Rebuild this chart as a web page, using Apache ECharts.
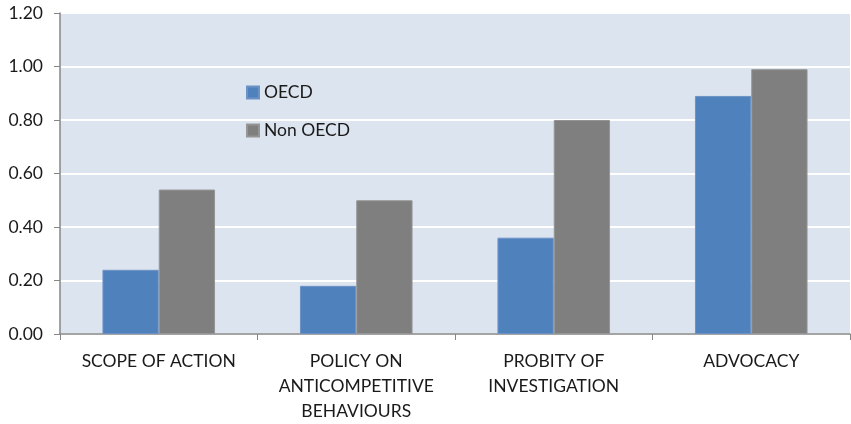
<!DOCTYPE html>
<html>
<head>
<meta charset="utf-8">
<script src="https://cdn.jsdelivr.net/npm/echarts@6/dist/echarts.min.js"></script>
<style>
  html, body { margin: 0; padding: 0; background: #ffffff; }
  #chart { width: 851px; height: 424px; }
</style>
</head>
<body>
<div id="chart"></div>
<script>
// Categories along the x axis
const categories = [
  'SCOPE OF ACTION',
  'POLICY ON\nANTICOMPETITIVE\nBEHAVIOURS',
  'PROBITY OF\nINVESTIGATION',
  'ADVOCACY'
];
// Series values
const oecd = [0.24, 0.18, 0.36, 0.89];
const nonOecd = [0.54, 0.50, 0.80, 0.99];
// Y axis range
const yMin = 0;
const yMax = 1.2;
const yStep = 0.2;

const font = 'Lato, "Open Sans", sans-serif';
const fs = 17.5;
const chart = echarts.init(document.getElementById('chart'), null, { renderer: 'canvas' });

chart.setOption({
  animation: false,
  textStyle: { fontFamily: font },
  grid: {
    left: 60, right: 1, top: 13, bottom: 89.5,
    show: true, backgroundColor: '#dce4ef', borderWidth: 0
  },
  legend: {
    orient: 'vertical',
    left: 246, top: 82, padding: 0,
    itemWidth: 12, itemHeight: 12, itemGap: 17,
    icon: 'rect',
    textStyle: { fontSize: fs, color: '#1a1a1a', fontFamily: font, lineHeight: 21 },
    data: ['OECD', 'Non OECD']
  },
  xAxis: {
    type: 'category',
    data: categories,
    axisLine: { lineStyle: { color: '#868686', width: 1.5 } },
    axisTick: { show: true, length: 6, lineStyle: { color: '#868686' } },
    axisLabel: {
      interval: 0, margin: 15, fontSize: fs, lineHeight: 25,
      color: '#1a1a1a', fontFamily: font, align: 'center'
    },
    splitLine: { show: false }
  },
  yAxis: {
    type: 'value',
    min: yMin, max: yMax, interval: yStep,
    axisLine: { show: true, lineStyle: { color: '#868686', width: 1.5 } },
    axisTick: { show: true, length: 6, lineStyle: { color: '#868686' } },
    axisLabel: {
      margin: 17, fontSize: fs, color: '#1a1a1a', fontFamily: font,
      formatter: v => v.toFixed(2)
    },
    splitLine: { show: true, lineStyle: { color: '#ffffff', width: 2 } }
  },
  series: [
    {
      name: 'OECD', type: 'bar', data: oecd,
      barWidth: '28.5%', barGap: '0%',
      itemStyle: { color: '#4f81bd', borderColor: '#6d93c6', borderWidth: 1 }
    },
    {
      name: 'Non OECD', type: 'bar', data: nonOecd,
      barWidth: '28.5%', barGap: '0%',
      itemStyle: { color: '#7f7f7f', borderColor: '#959595', borderWidth: 1 }
    }
  ]
});
</script>
</body>
</html>
